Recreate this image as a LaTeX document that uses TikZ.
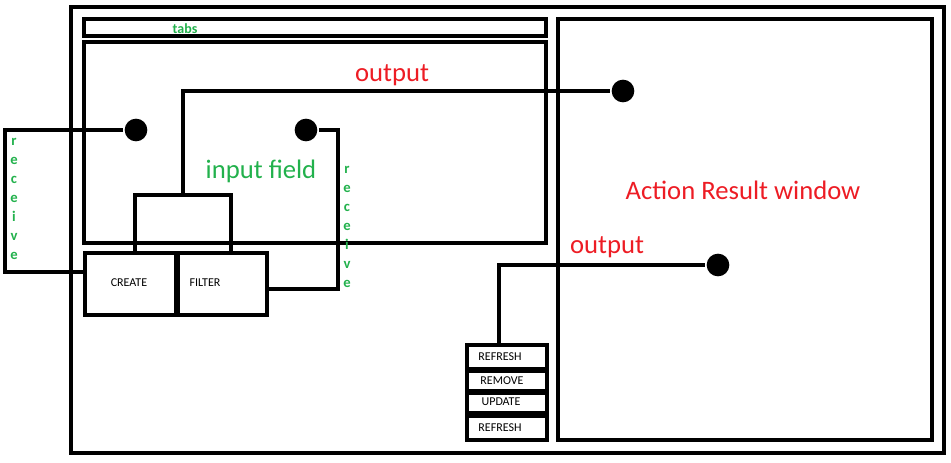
\documentclass[tikz,border=0pt]{standalone}
\usepackage{fontspec}
\setmainfont{Carlito}
\usetikzlibrary{fit}
\definecolor{pgreen}{RGB}{34,177,76}
\definecolor{pred}{RGB}{237,28,36}
\begin{document}
\begin{tikzpicture}[x=0.75pt,y=-0.75pt,line width=2.4pt,
  box/.style={draw,inner sep=0pt,rectangle},
  dot/.style={circle,fill=black,inner sep=0pt,minimum size=17pt},
  btn/.style={font=\fontsize{9}{10}\selectfont},
  glabel/.style={text=pgreen,font=\fontsize{20}{22}\selectfont},
  rlabel/.style={text=pred,font=\fontsize{20}{22}\selectfont},
  rec/.style={text=pgreen,font=\bfseries\fontsize{11}{14.25}\selectfont,align=center,inner sep=0pt}]
\useasboundingbox (0,0) rectangle (951,462);
% frames
\node[box,fit={(71,7) (944,453)}] (outer) {};
\node[box,fit={(84,19) (546,36)}] (tabs) {};
\node[box,fit={(84,42) (546,243)}] (input) {};
\node[box,fit={(558,19) (932,440)}] (result) {};
\node[box,fit={(135,195) (231,253)}] (small) {};
\node[box,fit={(85,253) (176,315)}] (create) {};
\node[box,fit={(178,253) (267,315)}] (filter) {};
\node[box,fit={(467,345) (547,369)}] (b1) {};
\node[box,fit={(467,371) (547,391)}] (b2) {};
\node[box,fit={(467,393) (547,413)}] (b3) {};
\node[box,fit={(467,416) (547,440)}] (b4) {};
% texts
\node[text=pgreen,font=\bfseries\fontsize{10.5}{12}\selectfont] at (185,29) {tabs};
\node[glabel] (inlab) at (261,171) {input field};
\node[rlabel] (out1) at (392,75) {output};
\node[rlabel] (out2) at (607,247) {output};
\node[rlabel] (arw) at (743,190) {Action Result window};
\node[btn] at (129,283) {CREATE};
\node[btn] at (205,283) {FILTER};
\node[btn] at (500,357) {REFRESH};
\node[btn] at (502,381) {REMOVE};
\node[btn] at (501,402) {UPDATE};
\node[btn] at (500,428) {REFRESH};
\node[rec,anchor=north] at (14,137) {r\\e\\c\\e\\i\\v\\e};
\node[rec,anchor=north] at (347,165) {r\\e\\c\\e\\i\\v\\e};
% dots
\node[dot] (d1) at (136,130) {};
\node[dot] (d2) at (306,130) {};
\node[dot] (d3) at (623,91) {};
\node[dot] (d4) at (718,265) {};
% connectors
\coordinate (l1) at (5,130);
\coordinate (l2) at (5,272);
\draw (d1) -- (l1) -- (l2) -- (l2 -| create.west);
\coordinate (r1) at (338,130);
\coordinate (r2) at (338,289);
\draw (d2) -- (r1) -- (r2) -- (r2 -| filter.east);
\draw (small.north) |- (d3);
\coordinate (o2) at (499,345);
\draw (o2) |- (d4);
\end{tikzpicture}
\end{document}
